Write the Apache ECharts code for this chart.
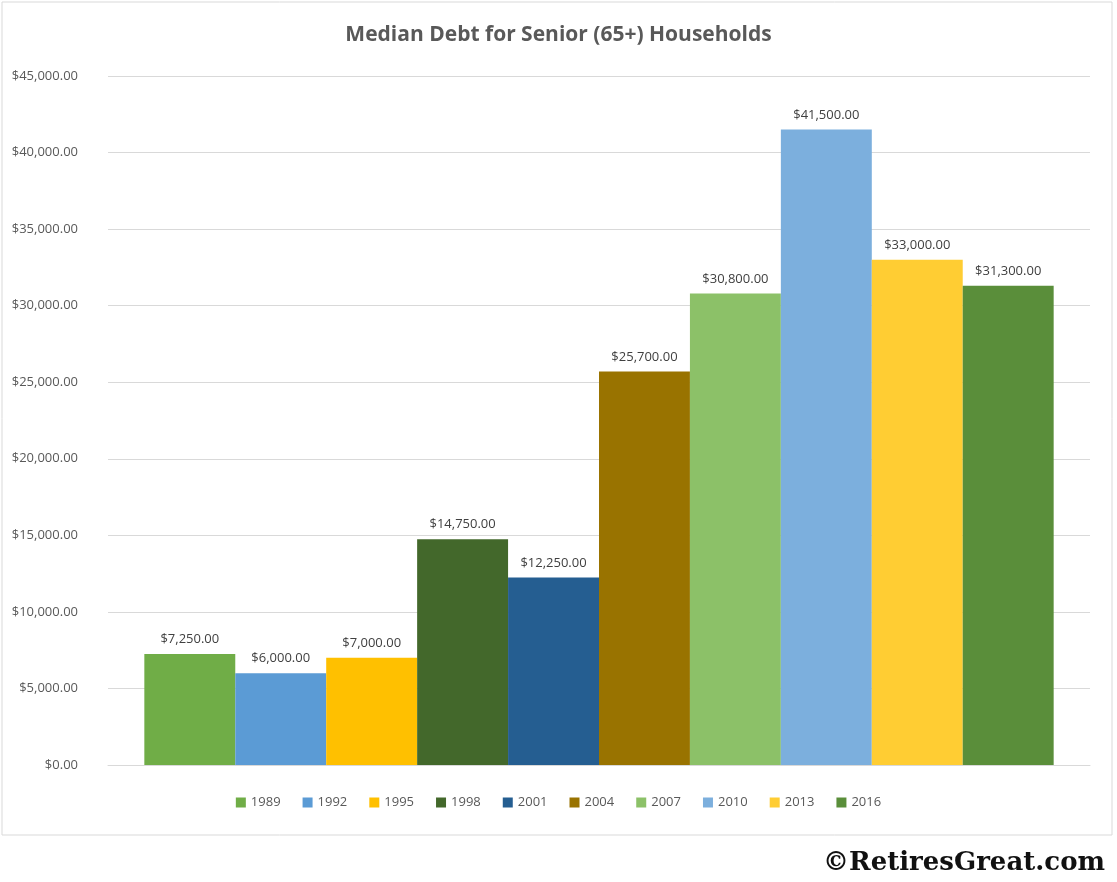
<!DOCTYPE html>
<html>
<head>
<meta charset="UTF-8">
<script src="https://cdn.jsdelivr.net/npm/echarts@6/dist/echarts.min.js"></script>
<style>html,body{margin:0;background:#fff}#c{width:1117px;height:882px}</style>
</head>
<body>
<div id="c"></div>
<script>
var years = ['1989','1992','1995','1998','2001','2004','2007','2010','2013','2016'];
var debt = [7250, 6000, 7000, 14750, 12250, 25700, 30800, 41500, 33000, 31300];
var colors = ['#70AD47','#5B9BD5','#FFC000','#43682B','#255E91','#997300','#8CC168','#7CAFDD','#FFCD33','#5A8E3A'];

function money(v) {
  return '$' + v.toLocaleString('en-US', {minimumFractionDigits: 2, maximumFractionDigits: 2});
}

var chart = echarts.init(document.getElementById('c'));
var txt = '#595959';
chart.setOption({
  color: colors,
  title: {
    text: 'Median Debt for Senior (65+) Households',
    left: 'center', top: 20,
    textStyle: {fontFamily: 'Open Sans', fontSize: 21, fontWeight: 'bold', color: txt}
  },
  legend: {
    bottom: 68, itemWidth: 10, itemHeight: 10, itemGap: 22,
    icon: 'rect',
    textStyle: {fontFamily: 'Open Sans', fontSize: 13, color: txt}
  },
  grid: {left: 108, right: 27, top: 76, bottom: 117},
  xAxis: {
    type: 'category', data: [''],
    axisLine: {lineStyle: {color: '#d9d9d9'}},
    axisTick: {show: false}, axisLabel: {show: false}
  },
  yAxis: {
    type: 'value', min: 0, max: 45000, interval: 5000,
    axisLabel: {formatter: money, fontFamily: 'Open Sans', fontSize: 13, color: txt, margin: 30},
    splitLine: {lineStyle: {color: '#d9d9d9'}},
    axisLine: {show: false}, axisTick: {show: false}
  },
  graphic: [
    {type: 'rect', shape: {x: 2, y: 2, width: 1110, height: 833},
     style: {fill: 'none', stroke: '#d9d9d9', lineWidth: 1}},
    {type: 'text', right: 12, bottom: 6,
     style: {text: '\u00A9RetiresGreat.com', font: 'bold 26px "DejaVu Serif"', fill: '#111'}}
  ],
  series: years.map(function (y, i) {
    return {
      name: y, type: 'bar', data: [debt[i]],
      barGap: '0%', barCategoryGap: '7.4%',
      label: {show: true, position: 'top', formatter: function (p) { return money(p.value); },
              fontFamily: 'Open Sans', fontSize: 13, color: '#404040', distance: 8}
    };
  })
});
</script>
</body>
</html>
